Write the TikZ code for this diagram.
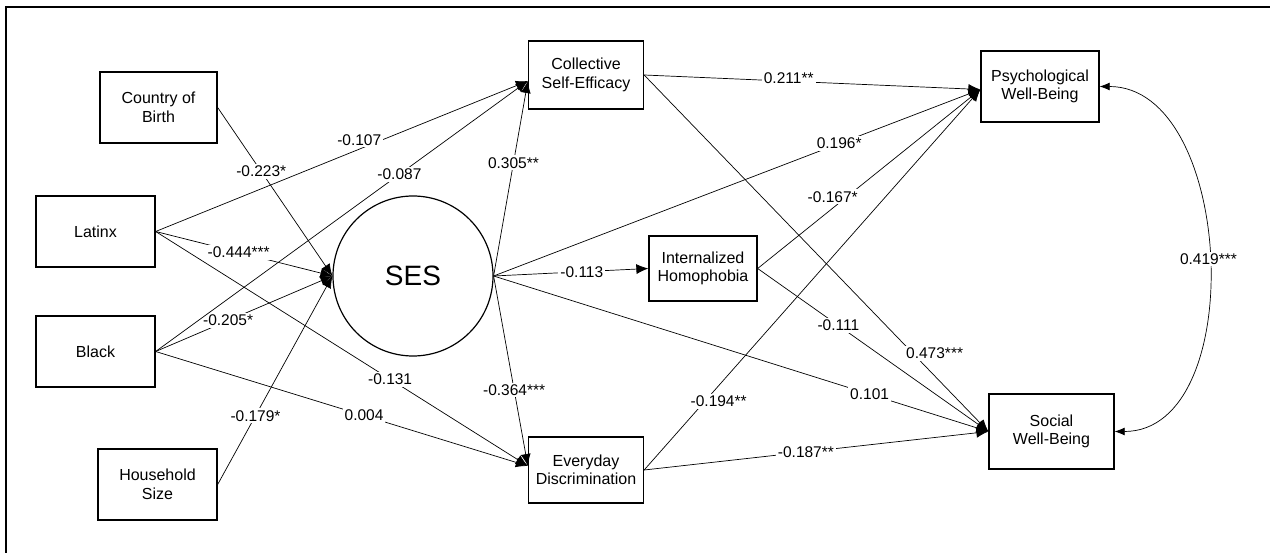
\documentclass[tikz,border=0pt]{standalone}
\usepackage{fontspec}
\setmainfont{Liberation Sans}
\usetikzlibrary{arrows.meta}

\begin{document}
\begin{tikzpicture}[x=1pt,y=-1pt]
\tikzstyle{Var}=[draw, line width=1.3pt, minimum height=71pt, align=center, inner sep=1pt, font=\fontsize{16}{18.5}\selectfont];
\tikzstyle{Latent}=[draw, circle, line width=1.2pt, minimum size=160pt, inner sep=0pt, font=\fontsize{28}{32}\selectfont];
\tikzstyle{reg}=[-{Latex[length=12pt,width=10pt]}, line width=0.7pt];
\tikzstyle{corr}=[{Latex[length=10pt,width=8pt]}-{Latex[length=10pt,width=8pt]}, line width=0.7pt];
\tikzstyle{coef}=[fill=white, inner sep=2pt, font=\fontsize{15.5}{17}\selectfont];
\useasboundingbox (0,0) rectangle (1270,553);
\draw [line width=1.5pt] (1270,7) -- (6,7) -- (6,553);
% exogenous
\node [Var, minimum width=117pt] (cob) at (158.5,107.5) {Country of\\Birth};
\node [Var, minimum width=119pt] (lat) at (95.5,231.5) {Latinx};
\node [Var, minimum width=119pt] (blk) at (95.5,351.5) {Black};
\node [Var, minimum width=119pt] (hh) at (157.5,484.5) {Household\\Size};
\node [Latent] (ses) at (413,276) {SES};
% mediators
\node [Var, minimum width=115pt, minimum height=68pt] (cse) at (586,75) {Collective\\Self-Efficacy};
\node [Var, minimum width=108pt, minimum height=65pt] (ih) at (703,268.5) {Internalized\\Homophobia};
\node [Var, minimum width=115pt, minimum height=66pt] (ed) at (586,470) {Everyday\\Discrimination};
% outcomes
\node [Var, minimum width=118pt] (pwb) at (1040,86.5) {Psychological\\Well-Being};
\node [Var, minimum width=125pt, minimum height=75pt] (swb) at (1051.5,431.5) {Social\\Well-Being};
% paths to SES
\draw [reg] (cob.east) -- node[coef,pos=0.38] {-0.223*} (ses.west);
\draw [reg] (lat.east) -- node[coef,pos=0.47] {-0.444***} (ses.west);
\draw [reg] (blk.east) -- node[coef,pos=0.41] {-0.205*} (ses.west);
\draw [reg] (hh.east) -- node[coef,pos=0.33] {-0.179*} (ses.west);
% paths to mediators
\draw [reg] (lat.east) -- node[coef,pos=0.59,xshift=-16pt,yshift=3pt] {-0.107} ([yshift=-6pt]cse.west);
\draw [reg] (blk.east) -- node[coef,pos=0.655] {-0.087} ([yshift=-6pt]cse.west);
\draw [reg] (ses.east) -- node[coef,pos=0.58] {0.305**} ([yshift=-6pt]cse.west);
\draw [reg] (lat.east) -- node[coef,pos=0.63] {-0.131} ([yshift=4pt]ed.west);
\draw [reg] (blk.east) -- node[coef,pos=0.56] {0.004} ([yshift=4pt]ed.west);
\draw [reg] (ses.east) -- node[coef,pos=0.6] {-0.364***} ([yshift=4pt]ed.west);
\draw [reg] (ses.east) -- node[coef,pos=0.57] {-0.113} (ih.west);
% paths to outcomes
\draw [reg] (cse.east) -- node[coef,pos=0.43,yshift=3pt] {0.211**} ([yshift=-3pt]pwb.west);
\draw [reg] (ses.east) -- node[coef,pos=0.71] {0.196*} ([yshift=-3pt]pwb.west);
\draw [reg] (ih.east) -- node[coef,pos=0.4,xshift=-14pt] {-0.167*} ([yshift=-3pt]pwb.west);
\draw [reg] (ed.east) -- node[coef,pos=0.18,xshift=14pt] {-0.194**} ([yshift=-3pt]pwb.west);
\draw [reg] (cse.east) -- node[coef,pos=0.78,xshift=22pt] {0.473***} (swb.west);
\draw [reg] (ih.east) -- node[coef,pos=0.35] {-0.111} (swb.west);
\draw [reg] (ses.east) -- node[coef,pos=0.76] {0.101} (swb.west);
\draw [reg] (ed.east) -- node[coef,pos=0.47] {-0.187**} (swb.west);
% residual correlation
\draw [corr] (pwb.east) to[out=0,in=0,looseness=1] node[coef,pos=0.5] {0.419***} (swb.east);
\end{tikzpicture}
\end{document}
